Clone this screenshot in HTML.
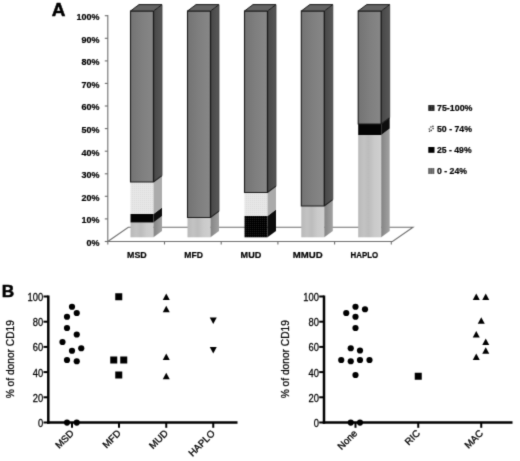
<!DOCTYPE html><html><head><meta charset="utf-8"><style>html,body{margin:0;padding:0;background:#fff}svg{display:block}text{font-family:"Liberation Sans",sans-serif;fill:#000}.pa text{stroke:#000;stroke-width:0.2px}</style></head><body>
<svg width="520" height="461" viewBox="0 0 520 461">
<defs><filter id="b" x="-2%" y="-2%" width="104%" height="104%" color-interpolation-filters="sRGB"><feConvolveMatrix order="3" kernelMatrix="0.0169 0.0962 0.0169 0.0962 0.5476 0.0962 0.0169 0.0962 0.0169" edgeMode="duplicate" preserveAlpha="false"/></filter><linearGradient id="lg" x1="0" x2="1" y1="0" y2="0"><stop offset="0" stop-color="#b9b9b9"/><stop offset="0.25" stop-color="#c3c3c3"/><stop offset="0.45" stop-color="#bcbcbc"/><stop offset="0.7" stop-color="#cacaca"/><stop offset="1" stop-color="#cfcfcf"/></linearGradient><linearGradient id="ls" x1="0" x2="1" y1="0" y2="0"><stop offset="0" stop-color="#848484"/><stop offset="1" stop-color="#a2a2a2"/></linearGradient><pattern id="kp" width="2" height="2" patternUnits="userSpaceOnUse"><rect width="2" height="2" fill="#000"/><rect width="1" height="1" fill="#1e1e1e"/></pattern><pattern id="vp" width="2" height="2" patternUnits="userSpaceOnUse"><rect width="2" height="2" fill="#e7e7e7"/><rect width="1" height="1" fill="#dcdcdc"/></pattern><linearGradient id="dg" x1="0" x2="1" y1="0" y2="0"><stop offset="0" stop-color="#737373"/><stop offset="0.5" stop-color="#7f7f7f"/><stop offset="1" stop-color="#878787"/></linearGradient><linearGradient id="ds" x1="0" x2="1" y1="0" y2="0"><stop offset="0" stop-color="#474747"/><stop offset="1" stop-color="#575757"/></linearGradient></defs>
<rect width="520" height="461" fill="#fff"/>
<g filter="url(#b)" class="pa">
<text transform="translate(51.7,16.1) scale(1.08,1)" font-size="17.5" font-weight="bold" fill="#000" style="stroke-width:0.5px">A</text>
<line x1="107.8" y1="15" x2="107.8" y2="241.5" stroke="#6e6e6e" stroke-width="1.1"/>
<line x1="104.8" y1="241.5" x2="107.8" y2="241.5" stroke="#6e6e6e" stroke-width="1.1"/>
<text x="99.5" y="245.8" font-size="9" font-weight="bold" text-anchor="end">0%</text>
<line x1="104.8" y1="218.9" x2="107.8" y2="218.9" stroke="#6e6e6e" stroke-width="1.1"/>
<text x="99.5" y="223.2" font-size="9" font-weight="bold" text-anchor="end">10%</text>
<line x1="104.8" y1="196.3" x2="107.8" y2="196.3" stroke="#6e6e6e" stroke-width="1.1"/>
<text x="99.5" y="200.6" font-size="9" font-weight="bold" text-anchor="end">20%</text>
<line x1="104.8" y1="173.8" x2="107.8" y2="173.8" stroke="#6e6e6e" stroke-width="1.1"/>
<text x="99.5" y="178.1" font-size="9" font-weight="bold" text-anchor="end">30%</text>
<line x1="104.8" y1="151.2" x2="107.8" y2="151.2" stroke="#6e6e6e" stroke-width="1.1"/>
<text x="99.5" y="155.5" font-size="9" font-weight="bold" text-anchor="end">40%</text>
<line x1="104.8" y1="128.6" x2="107.8" y2="128.6" stroke="#6e6e6e" stroke-width="1.1"/>
<text x="99.5" y="132.9" font-size="9" font-weight="bold" text-anchor="end">50%</text>
<line x1="104.8" y1="106.0" x2="107.8" y2="106.0" stroke="#6e6e6e" stroke-width="1.1"/>
<text x="99.5" y="110.3" font-size="9" font-weight="bold" text-anchor="end">60%</text>
<line x1="104.8" y1="83.4" x2="107.8" y2="83.4" stroke="#6e6e6e" stroke-width="1.1"/>
<text x="99.5" y="87.7" font-size="9" font-weight="bold" text-anchor="end">70%</text>
<line x1="104.8" y1="60.9" x2="107.8" y2="60.9" stroke="#6e6e6e" stroke-width="1.1"/>
<text x="99.5" y="65.2" font-size="9" font-weight="bold" text-anchor="end">80%</text>
<line x1="104.8" y1="38.3" x2="107.8" y2="38.3" stroke="#6e6e6e" stroke-width="1.1"/>
<text x="99.5" y="42.6" font-size="9" font-weight="bold" text-anchor="end">90%</text>
<line x1="104.8" y1="15.7" x2="107.8" y2="15.7" stroke="#6e6e6e" stroke-width="1.1"/>
<text x="99.5" y="20.0" font-size="9" font-weight="bold" text-anchor="end">100%</text>
<polygon points="107.8,241.5 128.3,227.2 413,227.2 392.5,241.5" fill="#fff" stroke="#6e6e6e" stroke-width="1.1"/>
<line x1="107.8" y1="241.5" x2="107.8" y2="244.5" stroke="#6e6e6e" stroke-width="1.1"/>
<line x1="164.5" y1="241.5" x2="164.5" y2="244.5" stroke="#6e6e6e" stroke-width="1.1"/>
<line x1="221.2" y1="241.5" x2="221.2" y2="244.5" stroke="#6e6e6e" stroke-width="1.1"/>
<line x1="277.9" y1="241.5" x2="277.9" y2="244.5" stroke="#6e6e6e" stroke-width="1.1"/>
<line x1="334.6" y1="241.5" x2="334.6" y2="244.5" stroke="#6e6e6e" stroke-width="1.1"/>
<line x1="391.3" y1="241.5" x2="391.3" y2="244.5" stroke="#6e6e6e" stroke-width="1.1"/>
<text x="127.1" y="258.2" font-size="9" font-weight="bold" textLength="19.6" lengthAdjust="spacingAndGlyphs">MSD</text>
<text x="184.3" y="258.2" font-size="9" font-weight="bold" textLength="18.6" lengthAdjust="spacingAndGlyphs">MFD</text>
<text x="240.6" y="258.2" font-size="9" font-weight="bold" textLength="20.6" lengthAdjust="spacingAndGlyphs">MUD</text>
<text x="292.8" y="258.2" font-size="9" font-weight="bold" textLength="29.8" lengthAdjust="spacingAndGlyphs">MMUD</text>
<text x="350.5" y="258.2" font-size="9" font-weight="bold" textLength="27.6" lengthAdjust="spacingAndGlyphs">HAPLO</text>
<rect x="130.5" y="222.5" width="23" height="14.8" fill="url(#lg)"/>
<polygon points="153.5,222.5 162.0,216.1 162.0,230.9 153.5,237.3" fill="url(#ls)"/>
<rect x="130.5" y="214" width="23" height="8.5" fill="#030303"/>
<polygon points="153.5,214 162.0,207.6 162.0,216.1 153.5,222.5" fill="#0e0e0e"/>
<rect x="130.5" y="182" width="23" height="32.0" fill="url(#vp)"/>
<polygon points="153.5,182 162.0,175.6 162.0,207.6 153.5,214" fill="#ababab"/>
<rect x="130.5" y="11" width="23" height="171.0" fill="url(#dg)"/>
<polygon points="153.5,11 162.0,4.6 162.0,175.6 153.5,182" fill="url(#ds)"/>
<path d="M153.5,11 L130.5,11 L130.5,182 L153.5,182 L162.0,175.6" fill="none" stroke="#1c1c1c" stroke-width="1.1"/>
<line x1="153.5" y1="11" x2="153.5" y2="182" stroke="#1a1a1a" stroke-width="1.3"/>
<line x1="162.0" y1="4.6" x2="162.0" y2="175.6" stroke="#3c3c3c" stroke-width="0.8"/>
<polygon points="130.5,11 139.0,4.6 162.0,4.6 153.5,11" fill="#636363" stroke="#1c1c1c" stroke-width="1"/>
<rect x="187.5" y="217.5" width="23" height="19.8" fill="url(#lg)"/>
<polygon points="210.5,217.5 219.0,211.1 219.0,230.9 210.5,237.3" fill="url(#ls)"/>
<rect x="187.5" y="11" width="23" height="206.5" fill="url(#dg)"/>
<polygon points="210.5,11 219.0,4.6 219.0,211.1 210.5,217.5" fill="url(#ds)"/>
<path d="M210.5,11 L187.5,11 L187.5,217.5 L210.5,217.5 L219.0,211.1" fill="none" stroke="#1c1c1c" stroke-width="1.1"/>
<line x1="210.5" y1="11" x2="210.5" y2="217.5" stroke="#1a1a1a" stroke-width="1.3"/>
<line x1="219.0" y1="4.6" x2="219.0" y2="211.1" stroke="#3c3c3c" stroke-width="0.8"/>
<polygon points="187.5,11 196.0,4.6 219.0,4.6 210.5,11" fill="#636363" stroke="#1c1c1c" stroke-width="1"/>
<rect x="244.5" y="216" width="23" height="21.3" fill="url(#kp)"/>
<polygon points="267.5,216 276.0,209.6 276.0,230.9 267.5,237.3" fill="#0c0c0c"/>
<rect x="244.5" y="192.5" width="23" height="23.5" fill="url(#vp)"/>
<polygon points="267.5,192.5 276.0,186.1 276.0,209.6 267.5,216" fill="#ababab"/>
<rect x="244.5" y="11" width="23" height="181.5" fill="url(#dg)"/>
<polygon points="267.5,11 276.0,4.6 276.0,186.1 267.5,192.5" fill="url(#ds)"/>
<path d="M267.5,11 L244.5,11 L244.5,192.5 L267.5,192.5 L276.0,186.1" fill="none" stroke="#1c1c1c" stroke-width="1.1"/>
<line x1="267.5" y1="11" x2="267.5" y2="192.5" stroke="#1a1a1a" stroke-width="1.3"/>
<line x1="276.0" y1="4.6" x2="276.0" y2="186.1" stroke="#3c3c3c" stroke-width="0.8"/>
<polygon points="244.5,11 253.0,4.6 276.0,4.6 267.5,11" fill="#636363" stroke="#1c1c1c" stroke-width="1"/>
<rect x="301.3" y="206" width="23" height="31.3" fill="url(#lg)"/>
<polygon points="324.3,206 332.8,199.6 332.8,230.9 324.3,237.3" fill="url(#ls)"/>
<rect x="301.3" y="11" width="23" height="195.0" fill="url(#dg)"/>
<polygon points="324.3,11 332.8,4.6 332.8,199.6 324.3,206" fill="url(#ds)"/>
<path d="M324.3,11 L301.3,11 L301.3,206 L324.3,206 L332.8,199.6" fill="none" stroke="#1c1c1c" stroke-width="1.1"/>
<line x1="324.3" y1="11" x2="324.3" y2="206" stroke="#1a1a1a" stroke-width="1.3"/>
<line x1="332.8" y1="4.6" x2="332.8" y2="199.6" stroke="#3c3c3c" stroke-width="0.8"/>
<polygon points="301.3,11 309.8,4.6 332.8,4.6 324.3,11" fill="#636363" stroke="#1c1c1c" stroke-width="1"/>
<rect x="358.2" y="135" width="23" height="102.3" fill="url(#lg)"/>
<polygon points="381.2,135 389.7,128.6 389.7,230.9 381.2,237.3" fill="url(#ls)"/>
<rect x="358.2" y="124" width="23" height="11.0" fill="#030303"/>
<polygon points="381.2,124 389.7,117.6 389.7,128.6 381.2,135" fill="#0e0e0e"/>
<rect x="358.2" y="11" width="23" height="113.0" fill="url(#dg)"/>
<polygon points="381.2,11 389.7,4.6 389.7,117.6 381.2,124" fill="url(#ds)"/>
<path d="M381.2,11 L358.2,11 L358.2,124 L381.2,124 L389.7,117.6" fill="none" stroke="#1c1c1c" stroke-width="1.1"/>
<line x1="381.2" y1="11" x2="381.2" y2="124" stroke="#1a1a1a" stroke-width="1.3"/>
<line x1="389.7" y1="4.6" x2="389.7" y2="117.6" stroke="#3c3c3c" stroke-width="0.8"/>
<polygon points="358.2,11 366.7,4.6 389.7,4.6 381.2,11" fill="#636363" stroke="#1c1c1c" stroke-width="1"/>
<rect x="428.3" y="105.1" width="6.2" height="5.8" fill="#1a1a1a"/>
<rect x="429.6" y="106.3" width="0.6" height="0.6" fill="#999"/>
<rect x="429.6" y="107.7" width="0.6" height="0.6" fill="#999"/>
<rect x="429.6" y="109.1" width="0.6" height="0.6" fill="#999"/>
<rect x="431.1" y="106.3" width="0.6" height="0.6" fill="#999"/>
<rect x="431.1" y="107.7" width="0.6" height="0.6" fill="#999"/>
<rect x="431.1" y="109.1" width="0.6" height="0.6" fill="#999"/>
<rect x="432.6" y="106.3" width="0.6" height="0.6" fill="#999"/>
<rect x="432.6" y="107.7" width="0.6" height="0.6" fill="#999"/>
<rect x="432.6" y="109.1" width="0.6" height="0.6" fill="#999"/>
<text x="437" y="111.2" font-size="9" font-weight="bold" textLength="35.5" lengthAdjust="spacingAndGlyphs">75-100%</text>
<circle cx="429.3" cy="128.99999999999997" r="0.8" fill="#333"/>
<circle cx="430.90000000000003" cy="126.99999999999999" r="0.8" fill="#333"/>
<circle cx="431.2" cy="130.39999999999998" r="0.8" fill="#333"/>
<circle cx="432.90000000000003" cy="126.39999999999998" r="0.8" fill="#333"/>
<circle cx="433.1" cy="128.6" r="0.8" fill="#333"/>
<circle cx="429.5" cy="131.2" r="0.8" fill="#333"/>
<text x="437" y="131.89999999999998" font-size="9" font-weight="bold" textLength="35" lengthAdjust="spacingAndGlyphs">50 - 74%</text>
<rect x="428.3" y="147.0" width="6.2" height="5.8" fill="#000"/>
<text x="437" y="153.1" font-size="9" font-weight="bold" textLength="34.6" lengthAdjust="spacingAndGlyphs">25 - 49%</text>
<rect x="428.3" y="168.1" width="6.2" height="5.8" fill="#999"/>
<line x1="428.3" y1="169.0" x2="434.5" y2="169.0" stroke="#222" stroke-width="1" stroke-dasharray="1.5 0.6"/>
<line x1="428.3" y1="171.0" x2="434.5" y2="171.0" stroke="#222" stroke-width="1" stroke-dasharray="1.5 0.6"/>
<line x1="428.3" y1="173.0" x2="434.5" y2="173.0" stroke="#222" stroke-width="1" stroke-dasharray="1.5 0.6"/>
<text x="437" y="174.2" font-size="9" font-weight="bold" textLength="30" lengthAdjust="spacingAndGlyphs">0 - 24%</text>
</g>
<g filter="url(#b)">
<text transform="translate(1.7,297.2) scale(1.04,1)" font-size="16.6" font-weight="bold" fill="#000" stroke="#000" stroke-width="0.5">B</text>
<line x1="48.3" y1="295.5" x2="48.3" y2="423.75" stroke="#000" stroke-width="2.5"/>
<line x1="47.05" y1="422.5" x2="237.5" y2="422.5" stroke="#000" stroke-width="2.5"/>
<line x1="43.5" y1="422.5" x2="48.3" y2="422.5" stroke="#000" stroke-width="2"/>
<text transform="translate(43.199999999999996,426.9) scale(0.92,1)" font-size="10.2" text-anchor="end" fill="#000" stroke="#000" stroke-width="0.25">0</text>
<line x1="43.5" y1="397.3" x2="48.3" y2="397.3" stroke="#000" stroke-width="2"/>
<text transform="translate(43.199999999999996,401.7) scale(0.92,1)" font-size="10.2" text-anchor="end" fill="#000" stroke="#000" stroke-width="0.25">20</text>
<line x1="43.5" y1="372.1" x2="48.3" y2="372.1" stroke="#000" stroke-width="2"/>
<text transform="translate(43.199999999999996,376.5) scale(0.92,1)" font-size="10.2" text-anchor="end" fill="#000" stroke="#000" stroke-width="0.25">40</text>
<line x1="43.5" y1="346.9" x2="48.3" y2="346.9" stroke="#000" stroke-width="2"/>
<text transform="translate(43.199999999999996,351.3) scale(0.92,1)" font-size="10.2" text-anchor="end" fill="#000" stroke="#000" stroke-width="0.25">60</text>
<line x1="43.5" y1="321.7" x2="48.3" y2="321.7" stroke="#000" stroke-width="2"/>
<text transform="translate(43.199999999999996,326.1) scale(0.92,1)" font-size="10.2" text-anchor="end" fill="#000" stroke="#000" stroke-width="0.25">80</text>
<line x1="43.5" y1="296.5" x2="48.3" y2="296.5" stroke="#000" stroke-width="2"/>
<text transform="translate(43.199999999999996,300.9) scale(0.92,1)" font-size="10.2" text-anchor="end" fill="#000" stroke="#000" stroke-width="0.25">100</text>
<line x1="72" y1="422.5" x2="72" y2="427.8" stroke="#000" stroke-width="2"/>
<text transform="translate(74.4,433.9) rotate(-45)" font-size="9.7" text-anchor="end" fill="#000" stroke="#000" stroke-width="0.3">MSD</text>
<line x1="119" y1="422.5" x2="119" y2="427.8" stroke="#000" stroke-width="2"/>
<text transform="translate(121.4,433.9) rotate(-45)" font-size="9.7" text-anchor="end" fill="#000" stroke="#000" stroke-width="0.3">MFD</text>
<line x1="166.25" y1="422.5" x2="166.25" y2="427.8" stroke="#000" stroke-width="2"/>
<text transform="translate(168.65,433.9) rotate(-45)" font-size="9.7" text-anchor="end" fill="#000" stroke="#000" stroke-width="0.3">MUD</text>
<line x1="213.25" y1="422.5" x2="213.25" y2="427.8" stroke="#000" stroke-width="2"/>
<text transform="translate(215.65,433.9) rotate(-45)" font-size="9.7" text-anchor="end" fill="#000" stroke="#000" stroke-width="0.3">HAPLO</text>
<text transform="translate(13.8,359.2) rotate(-90)" font-size="10.2" text-anchor="middle" fill="#000" stroke="#000" stroke-width="0.25">% of donor CD19</text>
<circle cx="72" cy="306.75" r="3.1" fill="#000"/>
<circle cx="76.75" cy="313" r="3.1" fill="#000"/>
<circle cx="67" cy="316.75" r="3.1" fill="#000"/>
<circle cx="67" cy="328" r="3.1" fill="#000"/>
<circle cx="76.75" cy="334.5" r="3.1" fill="#000"/>
<circle cx="62.5" cy="342" r="3.1" fill="#000"/>
<circle cx="81.25" cy="348.25" r="3.1" fill="#000"/>
<circle cx="72" cy="350.75" r="3.1" fill="#000"/>
<circle cx="67" cy="360" r="3.1" fill="#000"/>
<circle cx="76.75" cy="361.25" r="3.1" fill="#000"/>
<circle cx="67" cy="422.6" r="3.1" fill="#000"/>
<circle cx="76.75" cy="422.6" r="3.1" fill="#000"/>
<rect x="115.25" y="293.25" width="7" height="7" fill="#000"/>
<rect x="110.25" y="356.5" width="7" height="7" fill="#000"/>
<rect x="120.25" y="356.5" width="7" height="7" fill="#000"/>
<rect x="115.25" y="371.5" width="7" height="7" fill="#000"/>
<polygon points="162.75,300 169.75,300 166.25,293.5" fill="#000"/>
<polygon points="162.75,312.25 169.75,312.25 166.25,305.75" fill="#000"/>
<polygon points="162.75,360 169.75,360 166.25,353.5" fill="#000"/>
<polygon points="162.75,379.25 169.75,379.25 166.25,372.75" fill="#000"/>
<polygon points="209.75,317.5 216.75,317.5 213.25,324.0" fill="#000"/>
<polygon points="209.75,347 216.75,347 213.25,353.5" fill="#000"/>
<line x1="324" y1="295.5" x2="324" y2="423.75" stroke="#000" stroke-width="2.5"/>
<line x1="322.75" y1="422.5" x2="512.5" y2="422.5" stroke="#000" stroke-width="2.5"/>
<line x1="319.2" y1="422.5" x2="324" y2="422.5" stroke="#000" stroke-width="2"/>
<text transform="translate(318.9,426.9) scale(0.92,1)" font-size="10.2" text-anchor="end" fill="#000" stroke="#000" stroke-width="0.25">0</text>
<line x1="319.2" y1="397.3" x2="324" y2="397.3" stroke="#000" stroke-width="2"/>
<text transform="translate(318.9,401.7) scale(0.92,1)" font-size="10.2" text-anchor="end" fill="#000" stroke="#000" stroke-width="0.25">20</text>
<line x1="319.2" y1="372.1" x2="324" y2="372.1" stroke="#000" stroke-width="2"/>
<text transform="translate(318.9,376.5) scale(0.92,1)" font-size="10.2" text-anchor="end" fill="#000" stroke="#000" stroke-width="0.25">40</text>
<line x1="319.2" y1="346.9" x2="324" y2="346.9" stroke="#000" stroke-width="2"/>
<text transform="translate(318.9,351.3) scale(0.92,1)" font-size="10.2" text-anchor="end" fill="#000" stroke="#000" stroke-width="0.25">60</text>
<line x1="319.2" y1="321.7" x2="324" y2="321.7" stroke="#000" stroke-width="2"/>
<text transform="translate(318.9,326.1) scale(0.92,1)" font-size="10.2" text-anchor="end" fill="#000" stroke="#000" stroke-width="0.25">80</text>
<line x1="319.2" y1="296.5" x2="324" y2="296.5" stroke="#000" stroke-width="2"/>
<text transform="translate(318.9,300.9) scale(0.92,1)" font-size="10.2" text-anchor="end" fill="#000" stroke="#000" stroke-width="0.25">100</text>
<line x1="355.5" y1="422.5" x2="355.5" y2="427.8" stroke="#000" stroke-width="2"/>
<text transform="translate(357.9,433.9) rotate(-45)" font-size="9.7" text-anchor="end" fill="#000" stroke="#000" stroke-width="0.3">None</text>
<line x1="418.25" y1="422.5" x2="418.25" y2="427.8" stroke="#000" stroke-width="2"/>
<text transform="translate(420.65,433.9) rotate(-45)" font-size="9.7" text-anchor="end" fill="#000" stroke="#000" stroke-width="0.3">RIC</text>
<line x1="481.25" y1="422.5" x2="481.25" y2="427.8" stroke="#000" stroke-width="2"/>
<text transform="translate(483.65,433.9) rotate(-45)" font-size="9.7" text-anchor="end" fill="#000" stroke="#000" stroke-width="0.3">MAC</text>
<text transform="translate(289.3,359.2) rotate(-90)" font-size="10.2" text-anchor="middle" fill="#000" stroke="#000" stroke-width="0.25">% of donor CD19</text>
<circle cx="355.5" cy="306.75" r="3.1" fill="#000"/>
<circle cx="365" cy="309.25" r="3.1" fill="#000"/>
<circle cx="346.25" cy="313" r="3.1" fill="#000"/>
<circle cx="355.5" cy="316.75" r="3.1" fill="#000"/>
<circle cx="355.5" cy="328" r="3.1" fill="#000"/>
<circle cx="350.75" cy="348.25" r="3.1" fill="#000"/>
<circle cx="360" cy="350.5" r="3.1" fill="#000"/>
<circle cx="341.25" cy="360" r="3.1" fill="#000"/>
<circle cx="350.75" cy="361.25" r="3.1" fill="#000"/>
<circle cx="360" cy="360" r="3.1" fill="#000"/>
<circle cx="369.5" cy="360" r="3.1" fill="#000"/>
<circle cx="355.5" cy="375" r="3.1" fill="#000"/>
<circle cx="350.75" cy="422.6" r="3.1" fill="#000"/>
<circle cx="360" cy="422.6" r="3.1" fill="#000"/>
<rect x="414.75" y="372.75" width="7" height="7" fill="#000"/>
<polygon points="472.75,300 479.75,300 476.25,293.5" fill="#000"/>
<polygon points="482.25,300 489.25,300 485.75,293.5" fill="#000"/>
<polygon points="477.75,323.75 484.75,323.75 481.25,317.25" fill="#000"/>
<polygon points="472.75,337.5 479.75,337.5 476.25,331.0" fill="#000"/>
<polygon points="482.25,345 489.25,345 485.75,338.5" fill="#000"/>
<polygon points="482.25,353.75 489.25,353.75 485.75,347.25" fill="#000"/>
<polygon points="472.75,360 479.75,360 476.25,353.5" fill="#000"/>
</g>
</svg></body></html>
